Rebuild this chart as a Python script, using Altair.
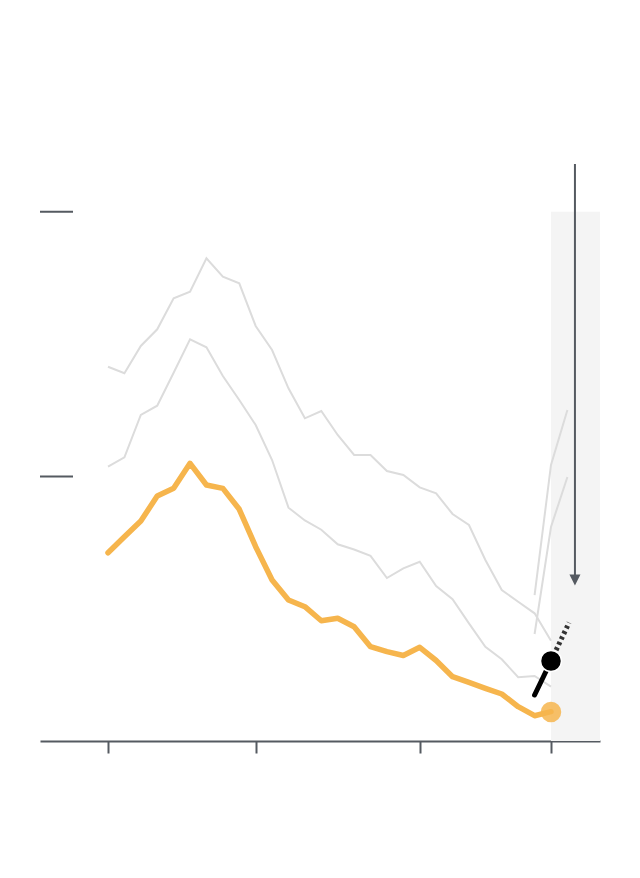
import altair as alt
import pandas as pd

years = list(range(1991, 2019))

series_a = [70.73, 69.49, 74.65, 77.80, 83.66, 84.91, 91.22, 87.74, 86.49, 78.43,
            73.89, 66.65, 60.98, 62.36, 57.83, 54.05, 54.05, 51.02, 50.27, 47.94,
            46.81, 42.90, 40.82, 34.20, 28.54, 26.32, 24.13, 18.95]
series_b = [51.84, 53.61, 61.61, 63.36, 69.60, 75.91, 74.40, 68.98, 64.44, 59.72,
            53.10, 44.09, 41.67, 39.93, 37.17, 36.19, 35.00, 30.80, 32.64, 33.88,
            29.29, 26.78, 22.24, 17.82, 15.44, 12.04, 12.28, 10.26]
series_main = [35.58, 38.61, 41.57, 46.30, 47.75, 52.48, 48.38, 47.75, 43.79, 36.72,
               30.43, 26.65, 25.38, 22.73, 23.19, 21.60, 17.82, 16.88, 16.16, 17.71,
               15.21, 12.15, 11.09, 9.96, 8.88, 6.48, 4.78, 5.54]

proj_years = [2017, 2018, 2019]
proj_1 = [27.59, 52.16, 62.55]
proj_2 = [20.22, 40.44, 49.89]

marker_years = [2017, 2018]
marker_vals = [8.69, 15.12]
dash_years = [2018, 2019.1]
dash_vals = [15.12, 22.36]

main_dot = [2018, 5.48]
black_dot = [2018, 15.12]

band = [2018, 2020.987, 0, 100]
arrow = [2019.46, 109.04, 31.0, 30.42]
y_ticks = [50, 100]
x_ticks = [1991, 2000, 2010, 2018]

AXIS = "#555a61"
GREY = "#dcdcdc"
ORANGE = "#f6b54d"

xs = alt.Scale(domain=[1986.855, 2020.987], nice=False, zero=False)
ys = alt.Scale(domain=[0, 120], nice=False, zero=False)

X = alt.X("x:Q", scale=xs, axis=alt.Axis(values=x_ticks, labels=False, title=None,
                                          grid=False, tickSize=12, tickWidth=2,
                                          tickColor=AXIS, domainColor=AXIS,
                                          domainWidth=2))
Y = alt.Y("y:Q", scale=ys, axis=None)

band_df = pd.DataFrame({"x": [band[0]], "x2": [band[1]], "y": [band[2]], "y2": [band[3]]})
band_layer = alt.Chart(band_df).mark_rect(color="#f4f4f4").encode(
    x=X, x2="x2:Q", y=Y, y2="y2:Q")

ytick_df = pd.DataFrame({"y": y_ticks})
ytick_layer = alt.Chart(ytick_df).mark_rule(color=AXIS, strokeWidth=2).encode(
    y=Y, x=alt.value(0), x2=alt.value(33))

grey_df = pd.DataFrame({
    "x": years + years,
    "y": series_a + series_b,
    "s": ["a"] * len(years) + ["b"] * len(years),
})
grey_layer = alt.Chart(grey_df).mark_line(color=GREY, strokeWidth=2).encode(
    x=X, y=Y, detail="s:N")

proj_df = pd.DataFrame({
    "x": proj_years + proj_years,
    "y": proj_1 + proj_2,
    "s": ["p1"] * 3 + ["p2"] * 3,
})
proj_layer = alt.Chart(proj_df).mark_line(color=GREY, strokeWidth=2).encode(
    x=X, y=Y, detail="s:N")

main_df = pd.DataFrame({"x": years, "y": series_main})
main_layer = alt.Chart(main_df).mark_line(
    color=ORANGE, strokeWidth=5.5, strokeCap="round", strokeJoin="round").encode(x=X, y=Y)

main_dot_df = pd.DataFrame({"x": [main_dot[0]], "y": [main_dot[1]]})
main_dot_layer = alt.Chart(main_dot_df).mark_circle(
    color=ORANGE, opacity=0.85, size=420).encode(x=X, y=Y)

marker_df = pd.DataFrame({"x": marker_years, "y": marker_vals})
marker_layer = alt.Chart(marker_df).mark_line(
    color="#000000", strokeWidth=5, strokeCap="round").encode(x=X, y=Y)

dash_df = pd.DataFrame({"x": dash_years, "y": dash_vals})
dash_layer = alt.Chart(dash_df).mark_line(
    color="#333333", strokeWidth=5, strokeDash=[3, 3]).encode(x=X, y=Y)

black_dot_df = pd.DataFrame({"x": [black_dot[0]], "y": [black_dot[1]]})
black_dot_layer = alt.Chart(black_dot_df).mark_point(
    shape="circle", filled=True, color="#000000", opacity=1, size=440,
    stroke="#ffffff", strokeWidth=1.5).encode(x=X, y=Y)

arrow_df = pd.DataFrame({"x": [arrow[0]], "y": [arrow[1]], "y2": [arrow[2]]})
arrow_layer = alt.Chart(arrow_df).mark_rule(color=AXIS, strokeWidth=2).encode(
    x=X, y=Y, y2="y2:Q")

head_df = pd.DataFrame({"x": [arrow[0]], "y": [arrow[3]]})
head_layer = alt.Chart(head_df).mark_point(
    shape="M-1,-1L1,-1L0,1Z", filled=True, color=AXIS, opacity=1, size=121).encode(
    x=X, y=Y)

chart = alt.layer(
    band_layer, ytick_layer, grey_layer, proj_layer, main_layer, main_dot_layer,
    marker_layer, dash_layer, black_dot_layer, arrow_layer, head_layer,
).properties(
    width=560, height=635,
    background="#ffffff",
    autosize=alt.AutoSizeParams(type="none"),
    padding={"left": 32, "top": 98, "right": 16, "bottom": 100},
).configure_view(stroke=None)

chart.save("out.html", embed_options={"renderer": "svg", "actions": False})
